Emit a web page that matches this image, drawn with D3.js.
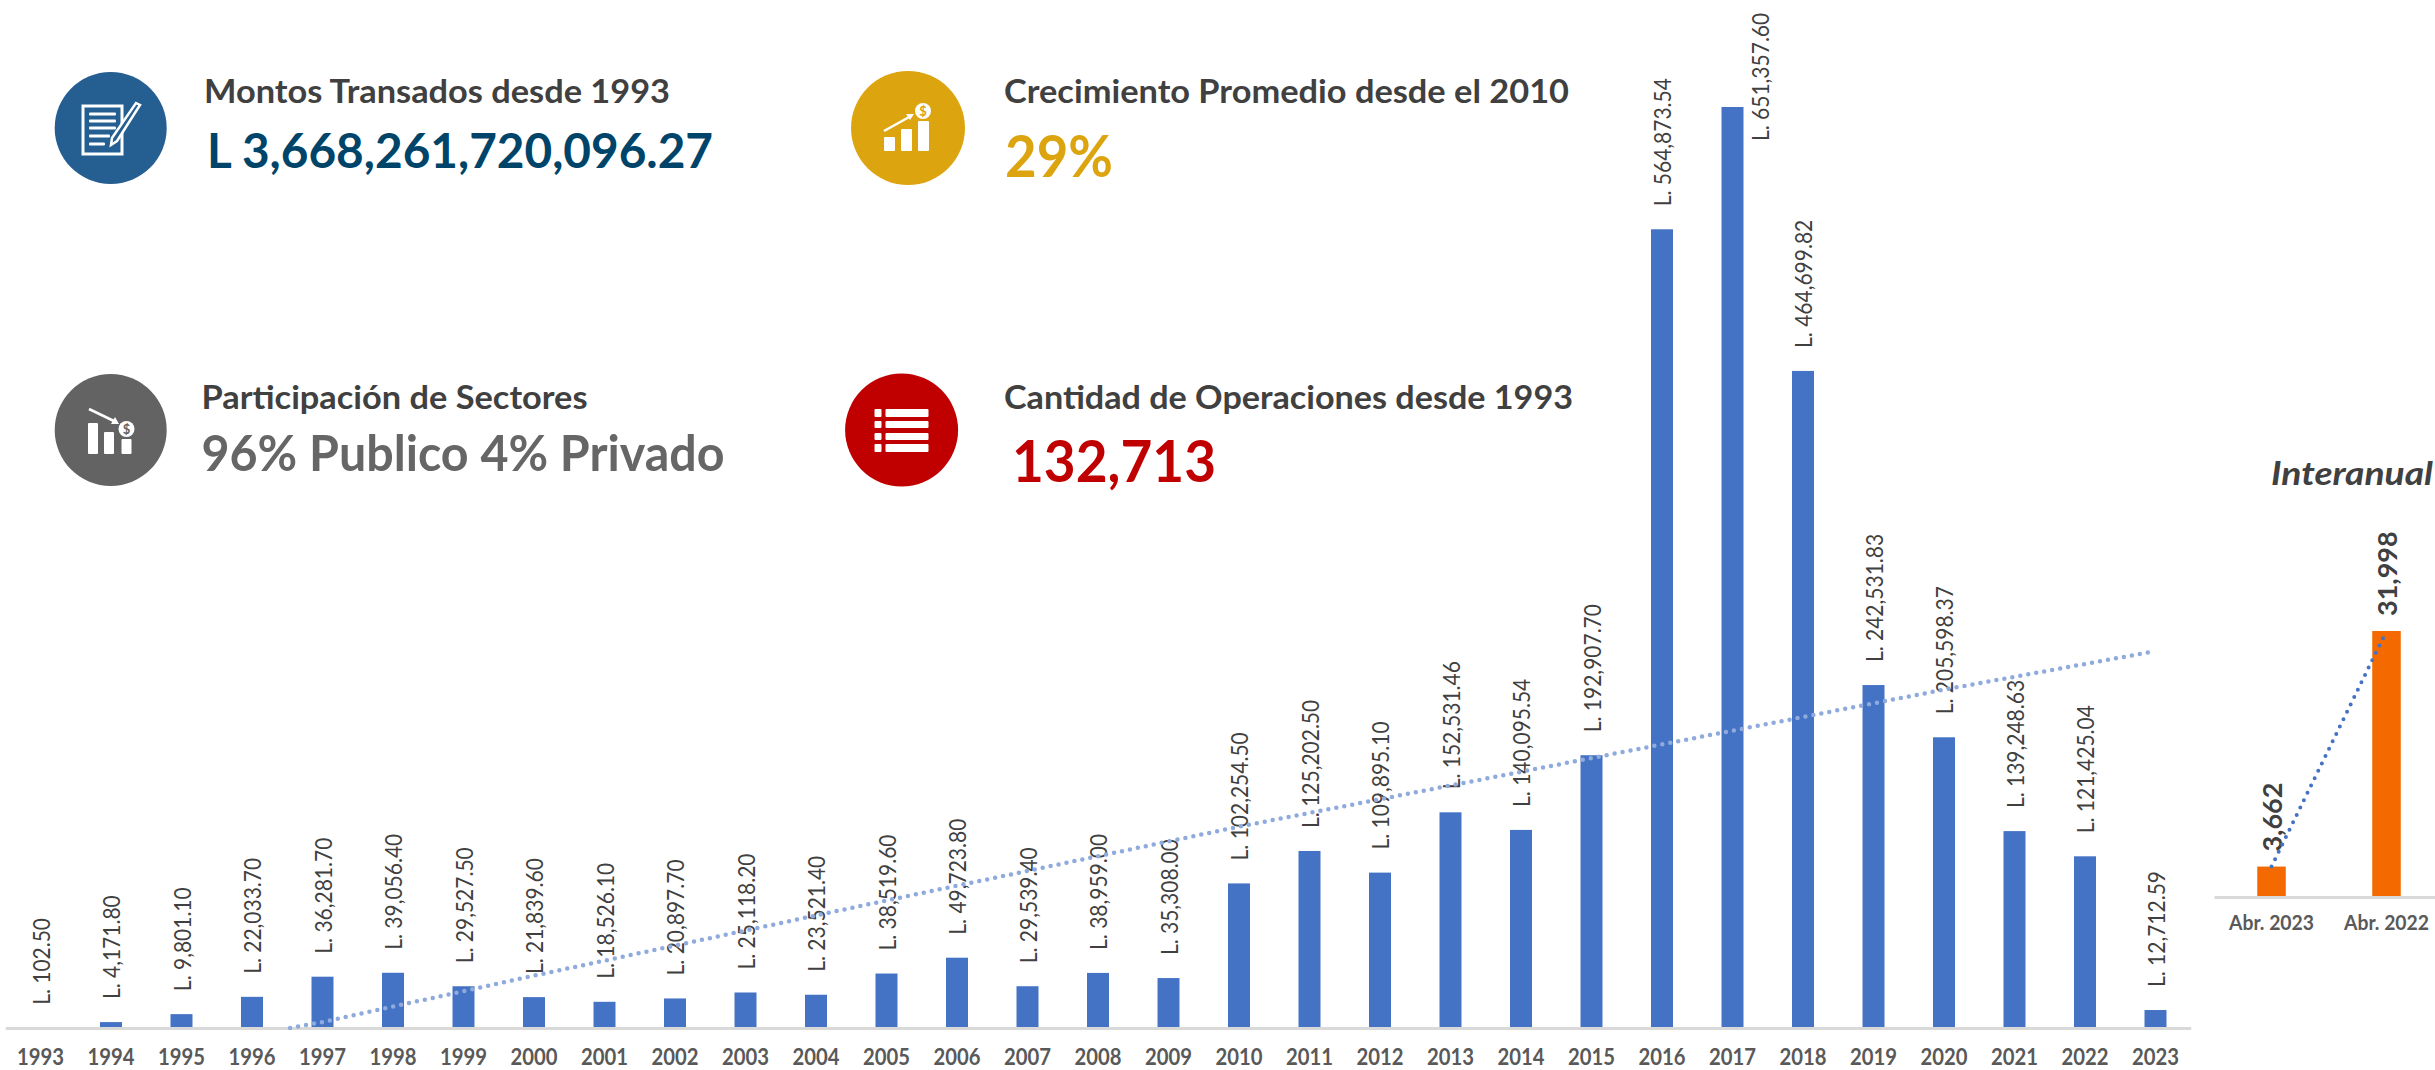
<!DOCTYPE html>
<html>
<head>
<meta charset="utf-8">
<script src="https://cdn.jsdelivr.net/npm/d3@7"></script>
<style>
    html, body { margin: 0; background: #fff; overflow: hidden; }
    text { font-family: Lato, "Open Sans", sans-serif; }
</style>
</head>
<body>
<div id="chart_div"></div>
<script>
const years = ["1993", "1994", "1995", "1996", "1997", "1998", "1999", "2000", "2001", "2002", "2003",
    "2004", "2005", "2006", "2007", "2008", "2009", "2010", "2011", "2012", "2013", "2014", "2015",
    "2016", "2017", "2018", "2019", "2020", "2021", "2022", "2023"];
const amounts = [102.50, 4171.80, 9801.10, 22033.70, 36281.70, 39056.40, 29527.50, 21839.60, 18526.10,
    20897.70, 25118.20, 23521.40, 38519.60, 49723.80, 29539.40, 38959.00, 35308.00, 102254.50, 125202.50,
    109895.10, 152531.46, 140095.54, 192907.70, 564873.54, 651357.60, 464699.82, 242531.83, 205598.37,
    139248.63, 121425.04, 12712.59];

// trend line: year position (0 = 1993) and value
const trendPos = [3.54, 4, 7, 12, 17, 22, 27, 29.92];
const trendVals = [0, 4200, 37000, 90200, 142400, 190900, 239300, 265800];

const yoyLabels = ["Abr. 2023", "Abr. 2022"];
const yoyValues = [3662, 31998];

const kpiTitles = ["Montos Transados desde 1993", "Crecimiento Promedio desde el 2010",
    "Participación de Sectores", "Cantidad de Operaciones desde 1993"];
const kpiValues = ["L 3,668,261,720,096.27", "29%", "96% Publico 4% Privado", "132,713"];

const width = 2435;
const height = 1070;
const baseline = 1028;
const baselineYoy = 897;

const svg = d3.select("#chart_div")
    .append("svg")
    .attr("width", width)
    .attr("height", height);

// main chart
const x = d3.scaleBand()
    .domain(years)
    .range([5.25, 2190.75])
    .paddingInner(0.688)
    .paddingOuter(0.344);

const y = d3.scaleLinear()
    .domain([0, 651357.6])
    .range([baseline, 107]);

const money = d3.format(",.2f");

svg.append("g")
    .selectAll("rect")
    .data(amounts)
    .enter()
    .append("rect")
    .attr("x", (d, i) => x(years[i]))
    .attr("y", d => y(d))
    .attr("width", x.bandwidth())
    .attr("height", d => baseline - y(d))
    .attr("fill", "#4472c4");

const xAxis = svg.append("g")
    .attr("transform", `translate(0,${baseline})`)
    .call(d3.axisBottom(x).tickSize(0).tickPadding(21));
xAxis.select(".domain").attr("stroke", "#d9d9d9").attr("stroke-width", 3);
xAxis.selectAll("text")
    .attr("font-size", 22)
    .attr("font-weight", 700)
    .attr("fill", "#595959")
    .attr("textLength", 47)
    .attr("lengthAdjust", "spacingAndGlyphs")
    .style("font-family", "Lato");

// 2017 does not fit above its bar, so its label sits beside it
svg.append("g")
    .selectAll("text")
    .data(amounts)
    .enter()
    .append("text")
    .attr("transform", (d, i) => {
        const cx = x(years[i]) + x.bandwidth() / 2;
        return years[i] === "2017"
            ? `translate(${cx + 36.5},141) rotate(-90) scale(0.875,1)`
            : `translate(${cx + 9},${y(d) - 23}) rotate(-90) scale(0.875,1)`;
    })
    .attr("font-size", 24)
    .attr("fill", "#404040")
    .text(d => "L. " + money(d));

const stepX = i => x(years[0]) + x.bandwidth() / 2 + i * x.step();

svg.append("path")
    .attr("d", d3.line().x((d, i) => stepX(trendPos[i])).y(d => y(d))(trendVals))
    .attr("fill", "none")
    .attr("stroke", "#8faadc")
    .attr("stroke-width", 4.5)
    .attr("stroke-linecap", "round")
    .attr("stroke-dasharray", "0 8.1");

// interanual chart
const xYoy = d3.scaleBand()
    .domain(yoyLabels)
    .range([2214, 2444])
    .paddingInner(0.752)
    .paddingOuter(0.376);

const yYoy = d3.scaleLinear()
    .domain([0, 31998])
    .range([baselineYoy, 631]);

svg.append("g")
    .selectAll("rect")
    .data(yoyValues)
    .enter()
    .append("rect")
    .attr("x", (d, i) => xYoy(yoyLabels[i]))
    .attr("y", d => yYoy(d))
    .attr("width", xYoy.bandwidth())
    .attr("height", d => baselineYoy - yYoy(d))
    .attr("fill", "#f46a00");

const yoyAxis = svg.append("g")
    .attr("transform", `translate(0,${baselineYoy})`)
    .call(d3.axisBottom(xYoy).tickSize(0).tickPadding(19));
yoyAxis.select(".domain").attr("stroke", "#d9d9d9").attr("stroke-width", 3);
yoyAxis.selectAll("text")
    .attr("font-size", 20)
    .attr("font-weight", 700)
    .attr("fill", "#595959")
    .attr("textLength", 85)
    .attr("lengthAdjust", "spacingAndGlyphs")
    .style("font-family", "Lato");

svg.append("g")
    .selectAll("text")
    .data(yoyValues)
    .enter()
    .append("text")
    .attr("transform", (d, i) => `translate(${xYoy(yoyLabels[i]) + xYoy.bandwidth() / 2 + 10},${yYoy(d) - 15}) rotate(-90)`)
    .attr("font-size", 27)
    .attr("font-weight", 700)
    .attr("fill", "#404040")
    .text(d => d3.format(",")(d));

const yoyPoints = yoyValues.map((d, i) => [xYoy(yoyLabels[i]) + xYoy.bandwidth() / 2, yYoy(d)]);
svg.append("path")
    .attr("d", d3.line()([yoyPoints[0], d3.interpolate(yoyPoints[0], yoyPoints[1])(0.98)]))
    .attr("fill", "none")
    .attr("stroke", "#4472c4")
    .attr("stroke-width", 4)
    .attr("stroke-linecap", "round")
    .attr("stroke-dasharray", "0 8.2");

svg.append("text")
    .attr("x", 2271)
    .attr("y", 485)
    .attr("font-size", 33)
    .attr("font-weight", 700)
    .attr("font-style", "italic")
    .attr("fill", "#404040")
    .attr("textLength", 162)
    .attr("lengthAdjust", "spacingAndGlyphs")
    .text("Interanual");

// KPI blocks
const kpi = (title, tx, ty, tw, value, vx, vy, vw, vsize, color) => {
    svg.append("text")
        .attr("x", tx).attr("y", ty)
        .attr("font-size", 33)
        .attr("font-weight", 700)
        .attr("fill", "#404040")
        .attr("textLength", tw)
        .attr("lengthAdjust", "spacingAndGlyphs")
        .text(title);
    svg.append("text")
        .attr("x", vx).attr("y", vy)
        .attr("font-size", vsize)
        .attr("font-weight", 700)
        .attr("fill", color)
        .attr("textLength", vw)
        .attr("lengthAdjust", "spacingAndGlyphs")
        .text(value);
};
kpi(kpiTitles[0], 204, 103, 466, kpiValues[0], 207, 168, 506, 48, "#004469");
kpi(kpiTitles[1], 1004, 103, 565, kpiValues[1], 1005, 177, 108, 58, "#dca50f");
kpi(kpiTitles[2], 201.5, 409, 386, kpiValues[2], 201.5, 471, 523, 49, "#666666");
kpi(kpiTitles[3], 1004, 409, 569, kpiValues[3], 1012, 482, 204, 58, "#c00000");

// icons
const circle = (cx, cy, r, fill) => svg.append("circle").attr("cx", cx).attr("cy", cy).attr("r", r).attr("fill", fill);
const box = (g, x0, y0, x1, y1, fill) => g.append("rect")
    .attr("x", x0).attr("y", y0).attr("width", x1 - x0).attr("height", y1 - y0)
    .attr("rx", 1).attr("fill", fill);

circle(110.7, 128, 56, "#255e91");
const doc = svg.append("g");
doc.append("rect").attr("x", 83).attr("y", 106).attr("width", 39).attr("height", 48)
    .attr("fill", "none").attr("stroke", "#fff").attr("stroke-width", 3);
[[114, 116], [121, 116], [128, 116], [136, 110], [144, 105]].forEach(l => box(doc, 89, l[0] - 1.5, l[1], l[0] + 1.5, "#fff"));
doc.append("path").attr("d", "M136 103 L140 105 L117 141 L111 145 L112 138 Z")
    .attr("fill", "#255e91").attr("stroke", "#fff").attr("stroke-width", 2.5);

circle(908, 128, 57, "#dca50f");
box(svg, 884, 137, 895, 151, "#fff");
box(svg, 901, 129, 912, 151, "#fff");
box(svg, 918, 121, 929, 151, "#fff");
svg.append("path").attr("d", "M884 131 L911 116").attr("stroke", "#fff").attr("stroke-width", 2.5);
svg.append("path").attr("d", "M914 114 L906 114 L910 120 Z").attr("fill", "#fff");
circle(923, 111, 8, "#fff");
svg.append("text").attr("x", 923).attr("y", 116).attr("text-anchor", "middle")
    .attr("font-size", 13).attr("font-weight", 700).attr("fill", "#dca50f").text("$");

circle(110.7, 430, 56, "#636363");
box(svg, 88, 423, 98, 454, "#fff");
box(svg, 104, 432, 114, 454, "#fff");
box(svg, 121.5, 439, 131.5, 454, "#fff");
svg.append("path").attr("d", "M89 409 L116 422").attr("stroke", "#fff").attr("stroke-width", 2.5);
svg.append("path").attr("d", "M119 424 L111 424 L115 417 Z").attr("fill", "#fff");
circle(126.5, 429, 8, "#fff");
svg.append("text").attr("x", 126.5).attr("y", 434).attr("text-anchor", "middle")
    .attr("font-size", 13).attr("font-weight", 700).attr("fill", "#636363").text("$");

circle(901.6, 430, 56.5, "#c00000");
[[409, 417], [421, 428], [433, 440], [444, 452]].forEach(r => {
    box(svg, 874.5, r[0], 881.5, r[1], "#fff");
    box(svg, 885.5, r[0], 928.5, r[1], "#fff");
});
</script>
</body>
</html>
